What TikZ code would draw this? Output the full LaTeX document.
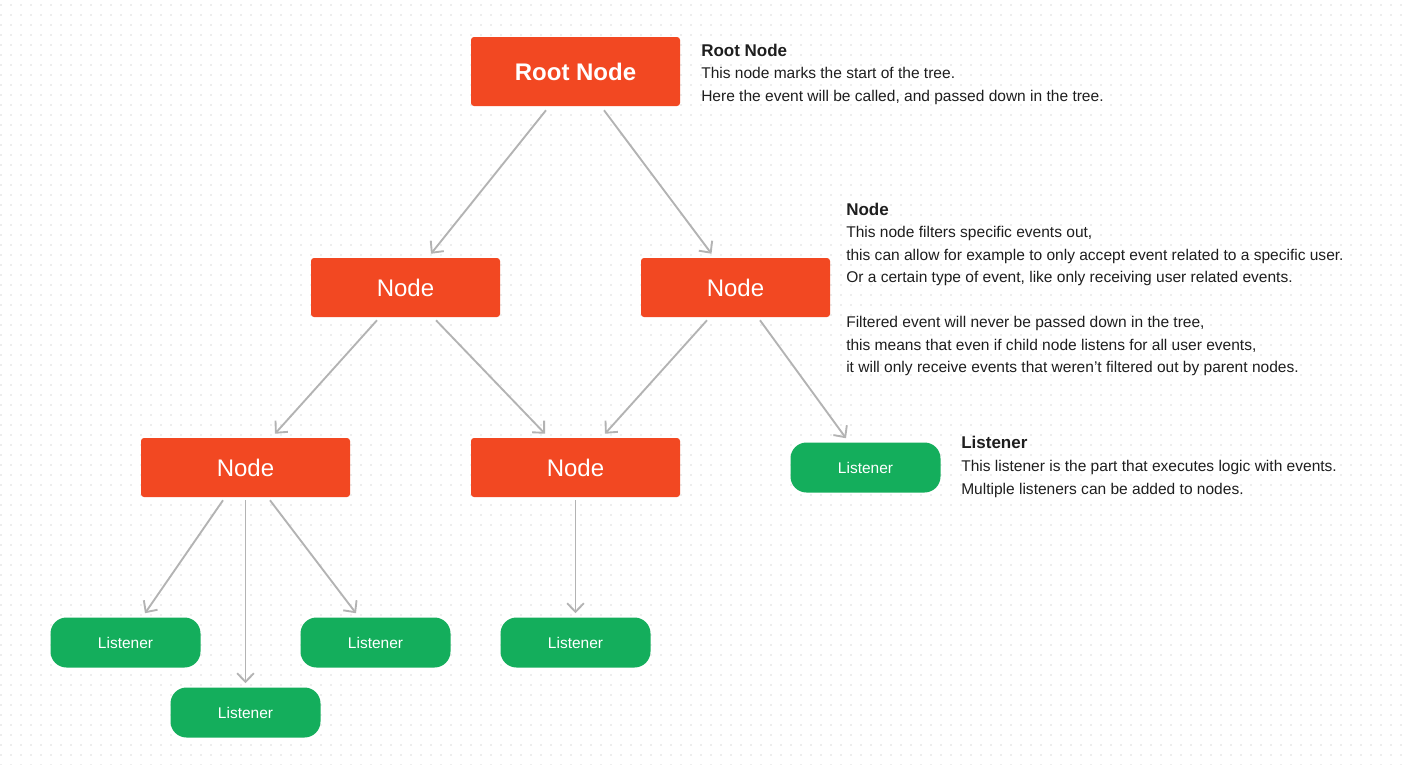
\documentclass[tikz,border=0pt]{standalone}
\usepackage{fontspec}
\setmainfont{Liberation Sans}
\usetikzlibrary{arrows.meta,calc}
\definecolor{nodered}{HTML}{F24822}
\definecolor{lgreen}{HTML}{14AE5C}
\definecolor{arrowgray}{HTML}{B3B3B3}
\definecolor{txtc}{HTML}{1E1E1E}
\definecolor{dotc}{HTML}{D6D6D6}
\begin{document}
\begin{tikzpicture}[x=0.75pt,y=-0.75pt,
  redbox/.style={fill=nodered, rounded corners=2.25pt, inner sep=0pt, text=white,
    minimum width=156.75pt, minimum height=44.25pt, font=\fontsize{18}{18}\selectfont},
  widebox/.style={redbox, minimum width=156.75pt},
  narrowbox/.style={redbox, minimum width=141.75pt},
  listenerbox/.style={fill=lgreen, rounded corners=12pt, inner sep=0pt, text=white,
    minimum width=112.5pt, minimum height=37.5pt, font=\fontsize{11.6}{12}\selectfont},
  titletext/.style={anchor=base west, inner sep=0pt, text=txtc, font=\fontsize{12.75}{13}\selectfont\bfseries},
  bodytext/.style={anchor=base west, inner sep=0pt, text=txtc, font=\fontsize{11.65}{12}\selectfont},
  conn/.style={draw=arrowgray, line width=1.4pt, -{Straight Barb[length=6.5pt,width=12.5pt,line width=1.4pt]}}
]
\useasboundingbox (0,0) rectangle (1410,764);
\fill[white] (0,0) rectangle (1410,764);
\foreach \j in {0,...,76}{
  \fill[dotc] \foreach \i in {0,...,140}{(10*\i+0.3,10*\j+4.3) rectangle +(1.4,1.4)};
}

% tree nodes
\node[widebox, minimum height=51.75pt, font=\fontsize{18}{18}\selectfont\bfseries] (root) at (575.5,71.5) {Root Node};
\node[narrowbox] (nl) at (405.5,287.5) {Node};
\node[narrowbox] (nr) at (735.5,287.5) {Node};
\node[widebox] (nll) at (245.5,467.5) {Node};
\node[widebox] (nm) at (575.5,467.5) {Node};

\node[listenerbox] (l1) at (125.5,642.5) {Listener};
\node[listenerbox] (l2) at (245.5,712.5) {Listener};
\node[listenerbox] (l3) at (375.5,642.5) {Listener};
\node[listenerbox] (l4) at (575.5,642.5) {Listener};
\node[listenerbox] (l5) at (865.5,467.5) {Listener};

% connectors
\draw[conn] ($(root.south)+(-29.5,4)$) -- ($(nl.north)+(25.5,-4)$);
\draw[conn] ($(root.south)+(28.5,4)$) -- ($(nr.north)+(-24,-4)$);
\draw[conn] ($(nl.south)+(-28.5,3)$) -- ($(nll.north)+(29.5,-4)$);
\draw[conn] ($(nl.south)+(30.5,3)$) -- ($(nm.north)+(-30.5,-4)$);
\draw[conn] ($(nr.south)+(-28.5,3)$) -- ($(nm.north)+(29.5,-4)$);
\draw[conn] ($(nr.south)+(24.5,3)$) -- ($(l5.north)+(-19.5,-4)$);
\draw[conn] ($(nll.south)+(-22.5,3)$) -- ($(l1.north)+(19.5,-4)$);
\draw[conn] ($(nll.south)+(0,3)$) -- ($(l2.north)+(0,-4)$);
\draw[conn] ($(nll.south)+(24.5,3)$) -- ($(l3.north)+(-19.5,-4)$);
\draw[conn] ($(nm.south)+(0,3)$) -- ($(l4.north)+(0,-4)$);

% descriptions
\node[titletext] (t1) at (701,56) {Root Node};
\node[bodytext] (t1a) at (701,78.5) {This node marks the start of the tree.};
\node[bodytext] (t1b) at (701,101) {Here the event will be called, and passed down in the tree.};

\node[titletext] (t2) at (846,215) {Node};
\node[bodytext] (t2a) at (846,237.5) {This node filters specific events out,};
\node[bodytext] (t2b) at (846,260) {this can allow for example to only accept event related to a specific user.};
\node[bodytext] (t2c) at (846,282.5) {Or a certain type of event, like only receiving user related events.};
\node[bodytext] (t2d) at (846,327.5) {Filtered event will never be passed down in the tree,};
\node[bodytext] (t2e) at (846,350) {this means that even if child node listens for all user events,};
\node[bodytext] (t2f) at (846,372.5) {it will only receive events that weren’t filtered out by parent nodes.};

\node[titletext] (t3) at (961,448) {Listener};
\node[bodytext] (t3a) at (961,471) {This listener is the part that executes logic with events.};
\node[bodytext] (t3b) at (961,494) {Multiple listeners can be added to nodes.};
\end{tikzpicture}
\end{document}
